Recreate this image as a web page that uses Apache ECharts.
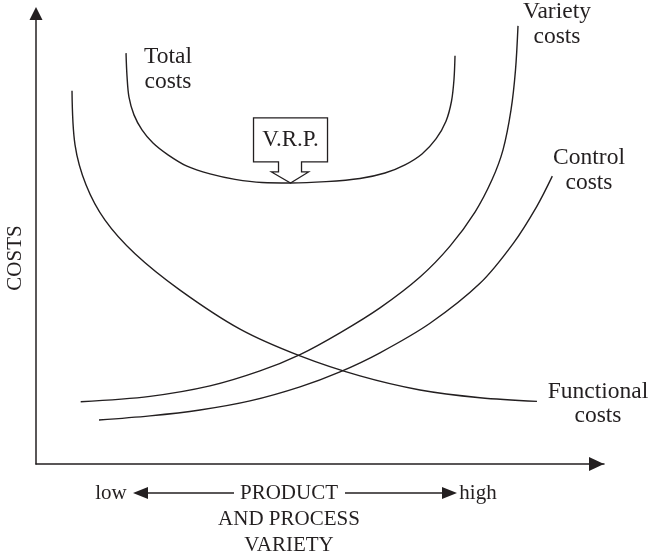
<!DOCTYPE html>
<html><head><meta charset="utf-8">
<script src="https://cdn.jsdelivr.net/npm/echarts@6/dist/echarts.min.js"></script>
<style>html,body{margin:0;padding:0;background:#fff}#c{width:648px;height:557px}</style>
</head><body><div id="c"></div>
<script>
// Values on an abstract 0-100 scale (x: product/process variety, y: costs)
const functionalCosts = [[6.34,82.2],[6.87,70.3],[8.8,61.5],[12.15,53.7],[17.43,46.3],[25.35,38.3],[35.92,29.7],[46.48,23.8],[57.04,19.4],[67.61,16.3],[78.17,14.6],[88.2,13.8]];
const varietyCosts = [[7.87,13.7],[20.07,14.9],[30.63,17.2],[39.44,20.5],[46.48,24.1],[53.52,28.9],[60.56,34.4],[67.61,41.2],[72.89,48.0],[77.29,55.5],[80.28,62.6],[82.22,69.2],[83.63,78.0],[84.42,86.8],[84.86,96.5]];
const controlCosts = [[11.09,9.7],[20.07,10.6],[28.87,11.9],[37.68,13.9],[46.48,17.0],[53.52,20.3],[60.56,24.5],[69.37,31.0],[78.17,39.8],[84.03,48.6],[88.15,56.7],[90.9,63.4]];
const totalCosts = [[15.85,90.5],[16.02,85.5],[16.37,80.8],[17.25,76.9],[18.66,73.6],[20.6,70.7],[23.24,68.1],[26.58,65.6],[30.63,63.9],[35.04,62.7],[39.79,62.0],[44.81,61.9],[51.06,62.2],[57.04,62.9],[61.44,64.1],[64.96,65.9],[67.96,68.3],[70.42,71.6],[72.18,75.5],[73.15,79.9],[73.59,84.7],[73.77,89.9]];
const seriesNames = ['Functional costs','Variety costs','Control costs','Total costs'];
const curveLabels = [['Functional','costs'],['Variety','costs'],['Control','costs'],['Total','costs']];
const axisTitleY = 'COSTS';
const axisTitleX = ['PRODUCT','AND PROCESS','VARIETY'];
const axisEnds = ['low','high'];
const vrpText = 'V.R.P.';

const chart = echarts.init(document.getElementById('c'), null, {renderer:'canvas'});
const FAMILY = '"Liberation Serif","Times New Roman",serif';
const ink = '#231f20';
function lineSeries(name, data){
  return {name:name, type:'line', data:data, smooth:0.33, symbol:'none', showSymbol:false, silent:true,
    lineStyle:{color:ink,width:1.4}, animation:false};
}
const axisBase = {type:'value',min:0,max:100,axisTick:{show:false},axisLabel:{show:false},splitLine:{show:false}};
chart.setOption({
  animation:false,
  backgroundColor:'#fff',
  grid:{left:36,right:44,top:10,bottom:93},
  xAxis:Object.assign({}, axisBase, {axisLine:{show:true,onZero:false,symbol:['none','triangle'],symbolSize:[14,15],symbolOffset:[0,-7.5],lineStyle:{color:ink,width:1.5}}}),
  yAxis:Object.assign({}, axisBase, {axisLine:{show:true,onZero:false,symbol:['none','triangle'],symbolSize:[13,13],symbolOffset:[0,-3.5],lineStyle:{color:ink,width:1.5}}}),
  series:[lineSeries(seriesNames[0],functionalCosts),lineSeries(seriesNames[1],varietyCosts),lineSeries(seriesNames[2],controlCosts),lineSeries(seriesNames[3],totalCosts)]
});

function txt(text,x,y,size,extra){
  return Object.assign({type:'text',x:x,y:y,silent:true,style:{text:text,font:size+'px '+FAMILY,fill:ink,align:'center',verticalAlign:'middle',textAlign:'center',textVerticalAlign:'middle'}}, extra||{});
}
// V.R.P. marker at the minimum of total costs
let minPt = totalCosts[0];
totalCosts.forEach(p=>{ if(p[1]<minPt[1]) minPt=p; });
const tip = chart.convertToPixel({gridIndex:0}, minPt);
const rel = [[-37,-65],[37,-65],[37,-21],[11,-21],[11,-11],[18,-11],[0,0],[-19,-11],[-12,-11],[-12,-21],[-37,-21]];
const L = 23.5, B = 21;
const graphics = [
  {type:'polygon',silent:true,shape:{points:rel.map(p=>[tip[0]+p[0],tip[1]+p[1]])},style:{fill:'#fff',stroke:ink,lineWidth:1.3}},
  txt(vrpText,tip[0],tip[1]-43,23),
  txt(curveLabels[3][0],168,57,L), txt(curveLabels[3][1],168,82,L),
  txt(curveLabels[1][0],557,12,L), txt(curveLabels[1][1],557,37,L),
  txt(curveLabels[2][0],589,158,L), txt(curveLabels[2][1],589,183,L),
  txt(curveLabels[0][0],598,392,L), txt(curveLabels[0][1],598,416,L),
  txt(axisTitleY,15,258,B,{rotation:Math.PI/2}),
  txt(axisEnds[0],111,493,B), txt(axisTitleX[0],289,493,B), txt(axisEnds[1],478,493,B),
  txt(axisTitleX[1],289,519,B), txt(axisTitleX[2],289,545,B),
  {type:'line',silent:true,shape:{x1:146,y1:493,x2:234,y2:493},style:{stroke:ink,lineWidth:1.3}},
  {type:'polygon',silent:true,shape:{points:[[133,493],[148,487],[148,499]]},style:{fill:ink}},
  {type:'line',silent:true,shape:{x1:345,y1:493,x2:444,y2:493},style:{stroke:ink,lineWidth:1.3}},
  {type:'polygon',silent:true,shape:{points:[[457,493],[442,487],[442,499]]},style:{fill:ink}}
];
chart.setOption({graphic:graphics});
</script></body></html>
